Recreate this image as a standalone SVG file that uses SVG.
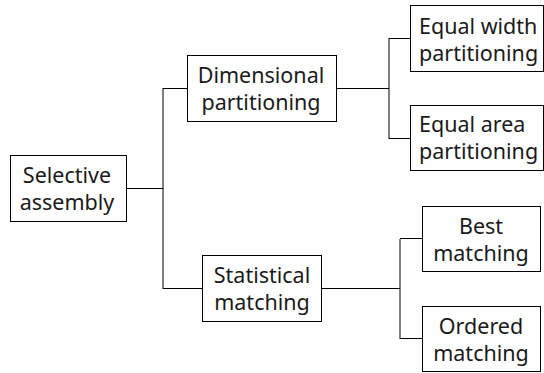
<svg xmlns="http://www.w3.org/2000/svg" width="544" height="373" viewBox="0 0 544 373">
<style>
.box{fill:#fff;stroke:#000;stroke-width:1}
.t{font-family:"Noto Sans","Open Sans",sans-serif;font-size:21.5px;fill:#1a1a1a}
.c{text-anchor:middle}
.h{stroke:#000;stroke-width:1;fill:none}
.v{stroke:#7f7f7f;stroke-width:2;fill:none}
</style>
<rect width="544" height="373" fill="#fff"/>
<g id="connectors">
<line class="v" x1="163" y1="88" x2="163" y2="289"/>
<line class="h" x1="126" y1="188.5" x2="163" y2="188.5"/>
<line class="h" x1="163" y1="88.5" x2="187" y2="88.5"/>
<line class="h" x1="163" y1="288.5" x2="202" y2="288.5"/>
<line class="v" x1="389" y1="38" x2="389" y2="139"/>
<line class="h" x1="336" y1="88.5" x2="389" y2="88.5"/>
<line class="h" x1="389" y1="38.5" x2="410" y2="38.5"/>
<line class="h" x1="389" y1="138.5" x2="410" y2="138.5"/>
<line class="v" x1="400" y1="239" x2="400" y2="339"/>
<line class="h" x1="321" y1="288.5" x2="400" y2="288.5"/>
<line class="h" x1="400" y1="238.5" x2="422" y2="238.5"/>
<line class="h" x1="400" y1="338.5" x2="422" y2="338.5"/>
</g>
<g id="selective-assembly">
<rect class="box" x="10.5" y="155.5" width="116" height="66"/>
<text class="t c" x="67" y="183">Selective</text>
<text class="t c" x="67" y="210">assembly</text>
</g>
<g id="dimensional-partitioning">
<rect class="box" x="187.5" y="55.5" width="149" height="66"/>
<text class="t c" x="261" y="83">Dimensional</text>
<text class="t c" x="261" y="110">partitioning</text>
</g>
<g id="statistical-matching">
<rect class="box" x="202.5" y="255.5" width="119" height="66"/>
<text class="t c" x="262" y="283">Statistical</text>
<text class="t c" x="262" y="310">matching</text>
</g>
<g id="equal-width">
<rect class="box" x="410.5" y="5.5" width="133" height="66"/>
<text class="t" x="419" y="34">Equal width</text>
<text class="t" x="419" y="61">partitioning</text>
</g>
<g id="equal-area">
<rect class="box" x="410.5" y="105.5" width="133" height="65"/>
<text class="t" x="419" y="132">Equal area</text>
<text class="t" x="419" y="159">partitioning</text>
</g>
<g id="best-matching">
<rect class="box" x="422.5" y="206.5" width="118" height="65"/>
<text class="t c" x="481" y="234">Best</text>
<text class="t c" x="481" y="261">matching</text>
</g>
<g id="ordered-matching">
<rect class="box" x="422.5" y="306.5" width="118" height="65"/>
<text class="t c" x="481" y="334">Ordered</text>
<text class="t c" x="481" y="361">matching</text>
</g>
</svg>
